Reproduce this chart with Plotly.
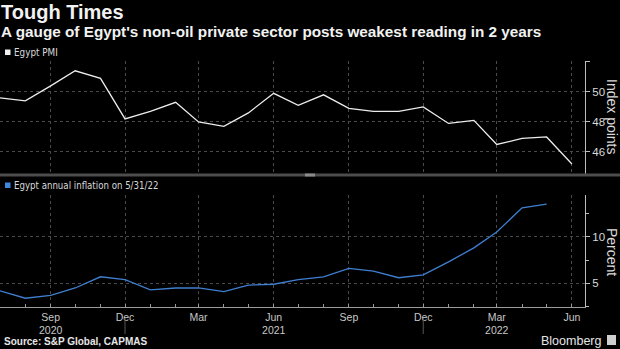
import plotly.graph_objects as go
import pandas as pd

# ---- data ----
pmi_dates = list(pd.date_range("2020-07-01", "2022-06-01", freq="MS"))
pmi_values = [49.6, 49.4, 50.4, 51.4, 50.9, 48.2, 48.7, 49.3, 48.0, 47.7, 48.6, 49.9,
              49.1, 49.8, 48.9, 48.7, 48.7, 49.0, 47.9, 48.1, 46.5, 46.9, 47.0, 45.2]
infl_dates = list(pd.date_range("2020-07-01", "2022-05-01", freq="MS"))
infl_values = [4.2, 3.4, 3.7, 4.5, 5.7, 5.4, 4.3, 4.5, 4.5, 4.1, 4.8, 4.9,
               5.4, 5.7, 6.6, 6.3, 5.6, 5.9, 7.3, 8.8, 10.5, 13.1, 13.5]
x_tick_dates = ["2020-09-01", "2020-12-01", "2021-03-01", "2021-06-01",
                "2021-09-01", "2021-12-01", "2022-03-01", "2022-06-01"]
x_tick_labels = ["Sep<br>2020", "Dec", "Mar", "Jun<br>2021", "Sep", "Dec", "Mar<br>2022", "Jun"]
year_dividers = ["2020-12-01", "2021-12-01"]
pmi_ticks = [46, 48, 50, 52]
pmi_tick_labels = ["46", "48", "50", ""]
infl_ticks = [5, 10]
infl_tick_labels = ["5", "10"]

W, H = 620, 349
ML, MR, MT, MB = 0, 35, 61, 42
PW, PH = W - ML - MR, H - MT - MB


def px(x):
    return (x - ML) / PW


def py(y):
    return (H - MB - y) / PH


BG = "#000000"
GRID = "#4a4a4a"
TXT = "#d9d9d9"
NARROW = "Liberation Sans Narrow, DejaVu Sans Condensed, Arial Narrow, sans-serif"
SANS = "Liberation Sans, Arial, sans-serif"

fig = go.Figure()
fig.add_trace(go.Scatter(x=pmi_dates, y=pmi_values, mode="lines",
                         line=dict(color="#ececec", width=1.3),
                         xaxis="x", yaxis="y", showlegend=False))
fig.add_trace(go.Scatter(x=infl_dates, y=infl_values, mode="lines",
                         line=dict(color="#3f7fd0", width=1.3),
                         xaxis="x2", yaxis="y2", showlegend=False))

xr = ["2020-07-01", "2022-06-17"]
top_dom = [py(173.5), 1]
bot_dom = [0, py(195)]

common_x = dict(range=xr, type="date", showgrid=True, gridcolor=GRID, griddash="dot",
                gridwidth=1, tickvals=x_tick_dates, zeroline=False)

fig.update_layout(
    width=W, height=H, margin=dict(l=ML, r=MR, t=MT, b=MB),
    paper_bgcolor=BG, plot_bgcolor=BG,
    xaxis=dict(**common_x, anchor="y", showticklabels=False, showline=False, ticks=""),
    xaxis2=dict(**common_x, anchor="y2", matches="x", ticktext=x_tick_labels,
                showline=True, linecolor="#9a9a9a", linewidth=1,
                ticks="inside", ticklen=3, tickcolor="#9a9a9a",
                minor=dict(dtick="M1", ticks="inside", ticklen=3, tickcolor="#9a9a9a", showgrid=False),
                tickfont=dict(family=SANS, size=10.5, color="#c8c8c8")),
    yaxis=dict(domain=top_dom, anchor="x", side="right", range=[44.57, 52.05],
               tickvals=pmi_ticks, ticktext=pmi_tick_labels,
               showgrid=True, gridcolor=GRID, griddash="dot", zeroline=False,
               showline=True, linecolor="#bdbdbd", linewidth=1,
               ticks="outside", ticklen=4, tickcolor="#bdbdbd",
               tickfont=dict(family=SANS, size=11.5, color=TXT)),
    yaxis2=dict(domain=bot_dom, anchor="x2", side="right", range=[2.46, 14.47],
                tickvals=infl_ticks, ticktext=infl_tick_labels,
                showgrid=True, gridcolor=GRID, griddash="dot", zeroline=False,
                showline=True, linecolor="#bdbdbd", linewidth=1,
                ticks="outside", ticklen=4, tickcolor="#bdbdbd",
                minor=dict(dtick=2.5, ticks="outside", ticklen=3, tickcolor="#bdbdbd", showgrid=False),
                tickfont=dict(family=SANS, size=11.5, color=TXT)),
)

shapes = []
# separator bar between panels
shapes.append(dict(type="line", xref="paper", yref="paper", x0=px(0), x1=px(620),
                   y0=py(175), y1=py(175), line=dict(color="#4d4d4d", width=3)))
shapes.append(dict(type="line", xref="paper", yref="paper", x0=px(305), x1=px(315),
                   y0=py(175), y1=py(175), line=dict(color="#8a8a8a", width=3)))
# legend squares
shapes.append(dict(type="rect", xref="paper", yref="paper", x0=px(5), x1=px(10.5),
                   y0=py(55), y1=py(49.5), fillcolor="#f0f0f0", line=dict(width=0)))
shapes.append(dict(type="rect", xref="paper", yref="paper", x0=px(5), x1=px(10.5),
                   y0=py(188), y1=py(182.5), fillcolor="#3f86e0", line=dict(width=0)))
# year dividers under the axis
for d in year_dividers:
    shapes.append(dict(type="line", xref="x2", yref="paper", x0=d, x1=d,
                       y0=py(318), y1=py(334), line=dict(color="#555555", width=1)))
# Bloomberg icon
shapes.append(dict(type="rect", xref="paper", yref="paper", x0=px(607), x1=px(616),
                   y0=py(345), y1=py(335), fillcolor="#cfcfcf", line=dict(width=0)))
fig.update_layout(shapes=shapes)

ann = []


def text(x, y, s, size, color=TXT, family=SANS, xanchor="left", yanchor="middle", angle=0):
    ann.append(dict(x=px(x), y=py(y), xref="paper", yref="paper", text=s, showarrow=False,
                    xanchor=xanchor, yanchor=yanchor, textangle=angle,
                    font=dict(size=size, color=color, family=family)))


text(-1, 11.5, "<b>Tough Times</b>", 20, color="#f2f2f2")
text(-1, 32, "<b>A gauge of Egypt's non-oil private sector posts weakest reading in 2 years</b>", 15.3, color="#f2f2f2")
text(12, 52.5, "Egypt PMI", 9.8, family=NARROW)
text(12, 185, "Egypt annual inflation on 5/31/22", 9.6, family=NARROW)
text(612, 117, "Index points", 14, angle=90, xanchor="center")
text(612, 252, "Percent", 14, angle=90, xanchor="center")
text(2, 341, "<b>Source: S&amp;P Global, CAPMAS</b>", 10, color="#e6e6e6")
text(603, 341, "Bloomberg", 12.5, color="#e6e6e6", xanchor="right")
fig.update_layout(annotations=ann)

fig.write_html("out.html")
